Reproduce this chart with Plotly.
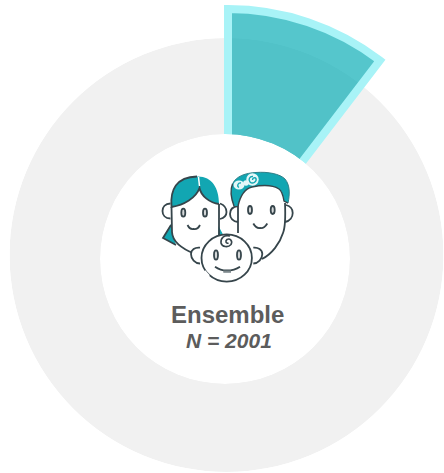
import re
import math
import plotly.graph_objects as go

W, H = 444, 473

# ring, highlighted sector and centre label
ring_radius = 217
hole_radius = 125
sector_start = 0
sector_sweep = 37.4
sector_radius = 250
title_text = "Ensemble"
n_text = "N = 2001"

TEAL = "#12a6b2"
DARK = "#36454b"
LW = 1.8


def fx(x):
    return x / W


def fy(y):
    return 1 - y / H


def to_paper(path):
    # icon paths are written in pixels from the top left
    nums = iter(re.findall(r"-?[\d.]+|[A-Za-z]+", path))
    out = []
    for tok in nums:
        if tok.isalpha():
            out.append(tok)
        else:
            out.append(f"{fx(float(tok)):.5f},{fy(float(next(nums))):.5f}")
    return " ".join(out)


shapes = []


def line(path, width=LW, color=DARK, fill=None):
    shapes.append(dict(type="path", xref="paper", yref="paper", path=to_paper(path),
                       line=dict(color=color, width=width), fillcolor=fill or "rgba(0,0,0,0)"))


def patch(path, fill):
    shapes.append(dict(type="path", xref="paper", yref="paper", path=to_paper(path),
                       line=dict(width=0), fillcolor=fill))


def oval(cx, cy, rx, ry, width=LW, color=DARK, fill="white"):
    shapes.append(dict(type="circle", xref="paper", yref="paper",
                       x0=fx(cx - rx), x1=fx(cx + rx), y0=fy(cy + ry), y1=fy(cy - ry),
                       line=dict(color=color, width=width), fillcolor=fill))


# woman
patch("M 171 224 L 163 238 L 176 245 L 172 232 Z", TEAL)
line("M 171 225 L 163 238 L 176 245")
patch("M 218.5 226 L 223 234.5 L 218.5 236 Z", TEAL)
line("M 171.5 207 L 172 232 C 172.5 243 185 250 195 254")
line("M 219 204 L 219 236")
patch("M 171.5 207 C 170 190 176 177 198 176.5 C 212 176.5 219 188 219 204 C 210 203 201 196 199.5 188 C 196 198 184 205 171.5 207 Z", TEAL)
line("M 219 204 C 210 203 201 196 199.5 188 C 196 198 184 205 171.5 207 C 170 190 176 177 197 176.5")
line("M 198.5 177 L 199.5 186", width=1.5, color="white")
line("M 170.5 203.5 C 165 203.5 162.5 207 162.5 211 C 162.5 215 165 218.5 170.5 218.5")
line("M 220 203.5 C 224 205 226.5 208 226.5 212 C 226.5 215 224 218 220 219")
oval(183.3, 212.7, 2, 4, fill="#d5d8d9")
oval(205, 212.7, 2, 4, fill="#d5d8d9")
line("M 187.5 225 C 189 228 191 229.5 193.5 229 C 196 229.5 198.5 228 200 225")

# man
line("M 238 204 L 238 233")
line("M 285 203 C 285.5 215 285 228 283 233 C 280 243 272 254 262 259")
line("M 238 206 C 233 206.5 230 209 230 214 C 230 218 233 221.5 238 222")
line("M 286 205 C 290 206 292.7 209 292.7 213 C 292.7 217 290 221 285 222")
patch("M 234 206 C 231 198 230 190 232.5 184 C 236 176 246 173 256 172.5 C 268 171.5 280 174 285 179 C 290 185 290 194 288 203 L 284 201 C 283 195 282 191 279 189 C 272 184.5 262 185 252 187 C 244 189 240 197 238 206 Z", TEAL)
line("M 232.5 184 C 236 176 246 173 256 172.5 C 268 171.5 280 174 285 179 C 290 185 290 194 288 203", width=1, color="#2f7f88")
line("M 234 206 C 231 198 230 190 232.5 184", width=1.4)
line("M 288 203 L 284 201 C 283 195 282 191 279 189 C 272 184.5 262 185 252 187 C 244 189 240 197 238 206", width=1.4)
oval(239, 185, 5.5, 4.5, width=0, fill="#e4f7f8")
oval(246, 183, 2.8, 2.8, width=0, fill="#e4f7f8")
oval(252.5, 179.5, 6.2, 6.2, width=0, fill="#e4f7f8")
line("M 253 176.5 C 249.5 176 248 180 250 182 C 252.5 184.5 257 182 256 178.5 C 255 177 252.5 178 252.5 180", width=1.4, color=TEAL)
line("M 241 183 C 238 182.5 236.5 186 239 187.5", width=1.3, color=TEAL)
oval(250, 210, 2, 4, fill="#d5d8d9")
oval(272.7, 210, 2, 4, fill="#d5d8d9")
line("M 253.3 223.5 C 255 226.5 257.5 228.5 260 228 C 262.5 228.5 265.5 226.5 267.3 223.5")

# baby
line("M 200 247.7 C 195 247 191 250 191 254 C 191 259 195 263.5 200 263.5", fill="white")
line("M 253.3 247.7 C 258 247 262.3 250 262.3 254 C 262.3 259 258 263.5 253.3 263.5", fill="white")
oval(226.7, 258, 25.2, 23.6)
line("M 204 271.5 L 208.5 276.5", width=3.5, color="white")
oval(216, 255, 2, 4.6, fill="#d5d8d9")
oval(239, 255, 2, 4.6, fill="#d5d8d9")
line("M 215 266.7 C 219 269.5 223 270.5 226.7 270.5 C 231 270.5 236 269.5 240 266.7")
patch("M 223.3 270.5 L 231 270.5 L 231 272.8 L 223.3 272.8 Z", "#7d888c")
line("M 230 236 C 224 234.5 220.5 238 221 243 C 222 247 228 248 231 244.5 C 233 241 230 238 227 239.5 C 225 241 226 244 228.5 243", width=1.6)

fig = go.Figure()

# grey ring disc, white hole goes on top of everything later
fig.add_trace(go.Barpolar(r=[ring_radius], theta=[180], width=[360], base=0,
                          marker=dict(color="#f1f1f1", line=dict(width=0)),
                          subplot="polar", hoverinfo="skip"))

fig.add_trace(go.Barpolar(r=[sector_radius], theta=[sector_start + sector_sweep / 2], width=[sector_sweep], base=0,
                          marker=dict(color="rgba(5,171,180,0.68)", line=dict(color="#a8f3f7", width=8)),
                          subplot="polar2", hoverinfo="skip"))

fig.add_trace(go.Barpolar(r=[hole_radius], theta=[180], width=[360], base=0,
                          marker=dict(color="white", line=dict(width=0)),
                          subplot="polar3", hoverinfo="skip"))


def polar_axes(rmax, cx, cy, rad):
    return dict(
        domain=dict(x=[fx(cx - rad), fx(cx + rad)], y=[fy(cy + rad), fy(cy - rad)]),
        bgcolor="rgba(0,0,0,0)",
        radialaxis=dict(visible=False, range=[0, rmax]),
        angularaxis=dict(visible=False, rotation=90, direction="clockwise"),
    )


# sector subplot: the full circle would not fit the page, so only a wedge of it is shown
wedge = [45, 100]
wedge_r = 258
wedge_cx, wedge_cy = 228, 259
polar2 = polar_axes(wedge_r, wedge_cx, wedge_cy, wedge_r)
polar2["sector"] = wedge
polar2["domain"] = dict(
    x=[fx(wedge_cx + wedge_r * math.cos(math.radians(wedge[1]))), fx(wedge_cx + wedge_r * math.cos(math.radians(wedge[0])))],
    y=[fy(wedge_cy), fy(wedge_cy - wedge_r)],
)

fig.update_layout(
    width=W,
    height=H,
    margin=dict(l=0, r=0, t=0, b=0),
    paper_bgcolor="white",
    showlegend=False,
    polar=polar_axes(ring_radius, 226.5, 255, ring_radius),
    polar2=polar2,
    polar3=polar_axes(hole_radius, 225, 259, hole_radius),
    shapes=shapes,
    annotations=[
        dict(text=f"<b>{title_text}</b>", x=fx(227), y=fy(314), xref="paper", yref="paper", showarrow=False,
             xanchor="center", yanchor="middle",
             font=dict(family="Liberation Sans", size=24, color="#5c5c5c")),
        dict(text=f"<b><i>{n_text}</i></b>", x=fx(228.5), y=fy(340), xref="paper", yref="paper", showarrow=False,
             xanchor="center", yanchor="middle",
             font=dict(family="Liberation Sans", size=21, color="#5c5c5c")),
    ],
)

fig.write_html("out.html", config=dict(displayModeBar=False), post_script="document.body.style.margin = '0';")
